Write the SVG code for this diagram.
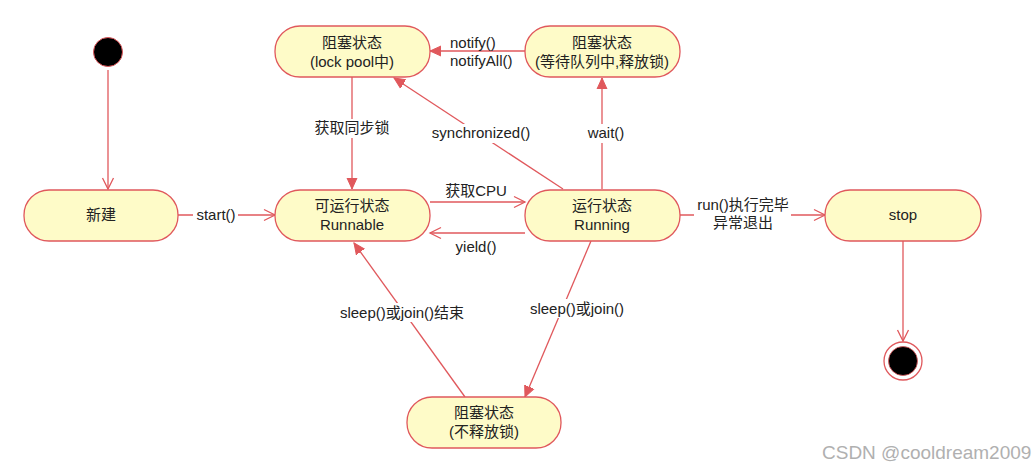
<svg xmlns="http://www.w3.org/2000/svg" width="1036" height="470" viewBox="0 0 1036 470">
<defs>
<style>
.node rect{fill:#FEFBC8;stroke:#E0585C;stroke-width:1.3}
.t{font-family:"Liberation Sans","Noto Sans CJK SC",sans-serif;font-size:15px;fill:#222;text-anchor:middle}
.l{font-family:"Liberation Sans","Noto Sans CJK SC",sans-serif;font-size:15px;fill:#222}
.c{stroke:#E0585C;stroke-width:1.3;fill:none}
.f{marker-end:url(#fa)}
.o{marker-end:url(#oa)}
.bg{fill:#fff}
</style>
<marker id="fa" markerUnits="userSpaceOnUse" markerWidth="12" markerHeight="12" viewBox="0 0 12 12" refX="11" refY="6" orient="auto">
<path d="M0,1 L11,6 L0,11 Z" fill="#E0585C" stroke="#E0585C" stroke-width="1"/>
</marker>
<marker id="oa" markerUnits="userSpaceOnUse" markerWidth="14" markerHeight="14" viewBox="0 0 14 14" refX="12" refY="7" orient="auto">
<path d="M1,1.5 L12,7 L1,12.5" fill="none" stroke="#E0585C" stroke-width="1.3"/>
</marker>
</defs>
<rect width="1036" height="470" fill="#fff"/>

<g id="connectors">
<line class="c o" x1="108" y1="70" x2="108" y2="189"/>
<line class="c o" x1="178" y1="215" x2="275" y2="215"/>
<line class="c f" x1="352" y1="77" x2="352" y2="189"/>
<line class="c o" x1="430" y1="202" x2="525" y2="202"/>
<line class="c o" x1="525" y1="233" x2="430" y2="233"/>
<line class="c f" x1="525" y1="51" x2="430" y2="51"/>
<line class="c f" x1="563" y1="189" x2="394" y2="78"/>
<line class="c f" x1="602" y1="189" x2="602" y2="78"/>
<line class="c o" x1="680" y1="215" x2="825" y2="215"/>
<line class="c o" x1="903" y1="241" x2="903" y2="341"/>
<line class="c f" x1="591" y1="241" x2="525" y2="397"/>
<line class="c f" x1="465" y1="397" x2="354" y2="243"/>

<rect class="bg" x="193" y="206" width="45" height="18"/>
<text class="t" x="216" y="220">start()</text>
<rect class="bg" x="313" y="119" width="79" height="19"/>
<text class="t" x="352" y="133">获取同步锁</text>
<text class="t" x="476" y="196">获取CPU</text>
<text class="t" x="476" y="252">yield()</text>
<text class="l" x="450" y="48">notify()</text>
<text class="l" x="450" y="66">notifyAll()</text>
<rect class="bg" x="429" y="124" width="105" height="19"/>
<text class="t" x="481" y="138">synchronized()</text>
<rect class="bg" x="585" y="124" width="42" height="19"/>
<text class="t" x="606" y="138">wait()</text>
<rect class="bg" x="694" y="196" width="97" height="34"/>
<text class="t" x="743" y="210">run()执行完毕</text>
<text class="t" x="743" y="228">异常退出</text>
<rect class="bg" x="337" y="303" width="131" height="19"/>
<text class="t" x="402" y="318">sleep()或join()结束</text>
<rect class="bg" x="526" y="299" width="102" height="19"/>
<text class="t" x="577" y="314">sleep()或join()</text>
</g>

<g id="start"><circle cx="108" cy="52" r="14.5" fill="#000" stroke="#E0585C" stroke-width="1"/></g>

<g id="new" class="node"><rect x="24" y="190" width="154" height="51" rx="25"/><text class="t" x="101" y="220">新建</text></g>

<g id="lockpool" class="node"><rect x="275" y="26" width="155" height="51" rx="25"/><text class="t" x="352" y="48">阻塞状态</text><text class="t" x="352" y="67">(lock pool中)</text></g>

<g id="waitqueue" class="node"><rect x="525" y="26" width="155" height="51" rx="25"/><text class="t" x="602" y="48">阻塞状态</text><text class="t" x="602" y="67">(等待队列中,释放锁)</text></g>

<g id="runnable" class="node"><rect x="275" y="190" width="155" height="51" rx="25"/><text class="t" x="352" y="211">可运行状态</text><text class="t" x="352" y="230">Runnable</text></g>

<g id="running" class="node"><rect x="525" y="190" width="155" height="51" rx="25"/><text class="t" x="602" y="211">运行状态</text><text class="t" x="602" y="230">Running</text></g>

<g id="stop" class="node"><rect x="825" y="190" width="156" height="51" rx="25"/><text class="t" x="903" y="220">stop</text></g>

<g id="blocked" class="node"><rect x="407" y="397" width="154" height="51" rx="25"/><text class="t" x="484" y="418">阻塞状态</text><text class="t" x="484" y="437">(不释放锁)</text></g>

<g id="end"><circle cx="903" cy="361" r="19" fill="#fff" stroke="#E0585C" stroke-width="1.3"/><circle cx="903" cy="361" r="14.5" fill="#000" stroke="#E0585C" stroke-width="0.8"/></g>

<text x="822" y="459" font-family="'Liberation Sans',sans-serif" font-size="19" fill="#b0b0b0">CSDN @cooldream2009</text>
</svg>
